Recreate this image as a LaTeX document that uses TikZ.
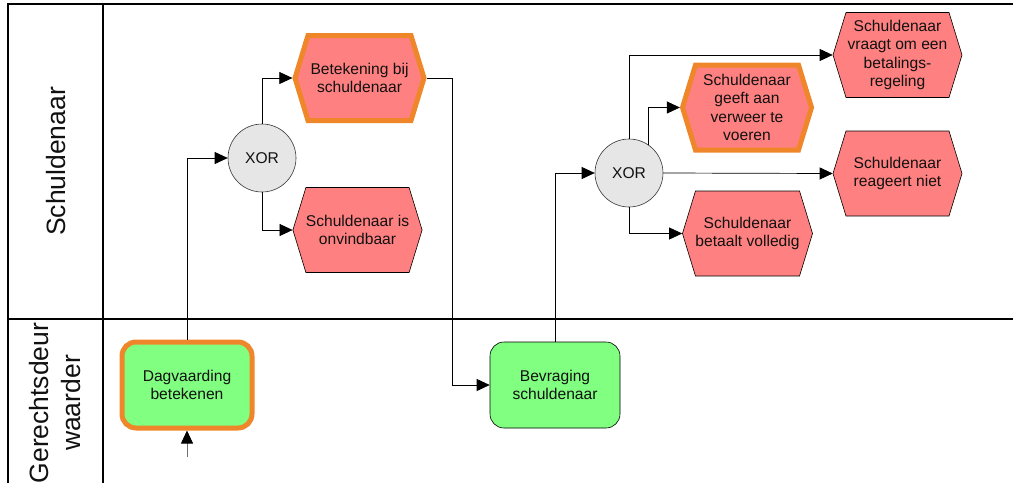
\documentclass[tikz,border=0pt]{standalone}
\usepackage{fontspec}
\setmainfont{Liberation Sans}
\usetikzlibrary{arrows.meta,shapes.symbols,shapes.geometric}
\definecolor{evred}{HTML}{FF8080}
\definecolor{fngreen}{HTML}{80FF80}
\definecolor{hilite}{HTML}{F0862A}
\definecolor{xorgray}{HTML}{E6E6E6}
\definecolor{txt}{HTML}{111111}
\tikzset{
  evt/.style={shape=signal, signal to=west and east, signal pointer angle=146,
    minimum width=129pt, minimum height=85pt, inner sep=0pt, fill=evred, draw=black,
    line width=0.6pt, align=center, text=txt, font=\fontsize{15.6}{18.5}\selectfont},
  fnc/.style={shape=rectangle, rounded corners=14pt, minimum width=130pt, minimum height=86pt,
    fill=fngreen, draw=black, line width=0.6pt, align=center, text=txt,
    font=\fontsize{15.6}{18.5}\selectfont},
  hot/.style={draw=hilite, line width=5pt},
  xorc/.style={shape=circle, minimum size=68pt, inner sep=0pt, fill=xorgray, draw=black!80,
    line width=0.6pt, text=txt, font=\fontsize{15.6}{18.5}\selectfont},
  conn/.style={line width=0.7pt, -{Triangle[length=13pt,width=12pt,color=black]}},
  frame/.style={line width=1.2pt},
  lane/.style={rotate=90, align=center, text=txt, font=\fontsize{26.5}{32}\selectfont}
}
\begin{document}
\begin{tikzpicture}[x=1pt,y=-1pt]
\useasboundingbox (0,0) rectangle (1013,483);
% frame
\draw[frame] (8,483) -- (8,4) -- (1013,4);
\draw[frame] (103,4) -- (103,483);
\draw[frame] (8,319) -- (1013,319);
\node[lane] (l1) at (56,161.5) {Schuldenaar};
\node[lane] (l2) at (55.5,403) {Gerechtsdeur\\waarder};
% nodes
\node[fnc,hot] (dag) at (187,385) {Dagvaarding\\betekenen};
\node[fnc] (bev) at (555,385) {Bevraging\\schuldenaar};
\node[xorc] (x1) at (262,158) {XOR};
\node[xorc] (x2) at (629,173) {XOR};
\node[evt,hot] (bet) at (359.5,78) {Betekening bij\\schuldenaar};
\node[evt] (onv) at (357.5,230) {Schuldenaar is\\onvindbaar};
\node[evt] (vra) at (897.5,55) {Schuldenaar\\vraagt om een\\betalings-\\regeling};
\node[evt,hot] (gee) at (747,107.5) {Schuldenaar\\geeft aan\\verweer te\\voeren};
\node[evt] (rea) at (897.5,173.5) {Schuldenaar\\reageert niet};
\node[evt] (bvo) at (747.5,233.5) {Schuldenaar\\betaalt volledig};
% connectors
\coordinate (start) at (187,457);
\draw[conn,draw=black!55] (start) -- (dag.south);
\draw[conn] (dag.north) |- (x1.west);
\draw[conn] (x1.north) |- (bet.west);
\draw[conn] (x1.south) |- (onv.west);
\draw[conn] (bet.east) -- ++(26,0) |- (bev.west);
\draw[conn] (bev.north) |- (x2.west);
\draw[conn] (x2.north) |- (vra.west);
\draw[conn] (x2.56) |- (gee.west);
\draw[conn] (x2.east) -- (rea.west);
\draw[conn] (x2.south) |- (bvo.west);
\end{tikzpicture}
\end{document}
